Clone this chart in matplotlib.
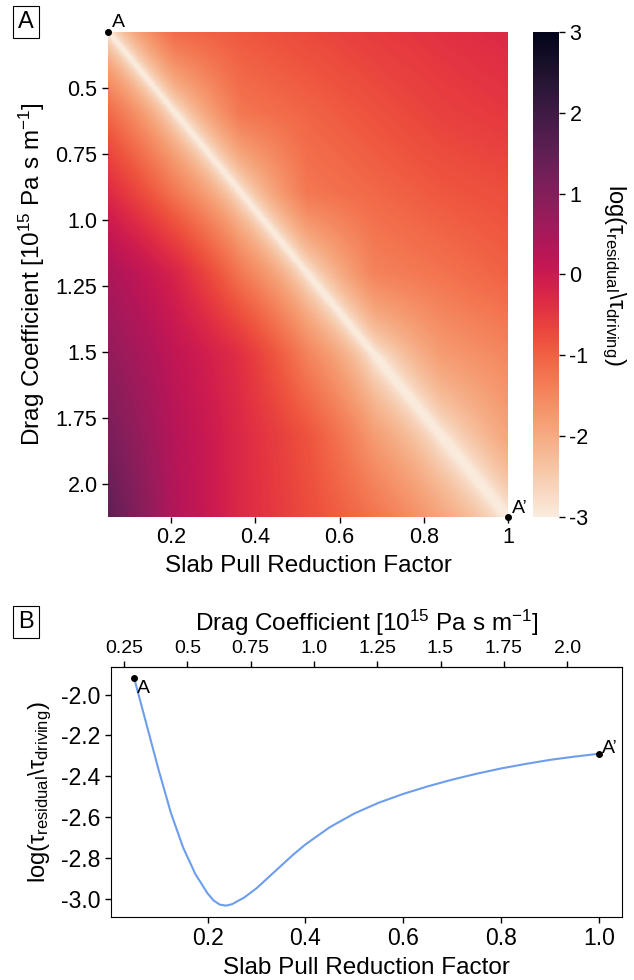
import numpy as np
import matplotlib
matplotlib.use('Agg')
import matplotlib.pyplot as plt
import matplotlib.colors as mcolors
import matplotlib.cm as cm
import seaborn as sns

plt.rcParams['font.family'] = ['Liberation Sans', 'DejaVu Sans']
plt.rcParams['axes.unicode_minus'] = False
plt.rcParams['mathtext.fontset'] = 'custom'
plt.rcParams['mathtext.rm'] = 'Liberation Sans'
plt.rcParams['mathtext.it'] = 'Liberation Sans'

# --- data ---
# heatmap nodes (panel A): slab pull reduction factor (columns) x drag coefficient (rows)
slab_pull_nodes = [0.05, 0.208, 0.367, 0.525, 0.683, 0.842, 1.0]
drag_nodes = [0.29, 0.596, 0.902, 1.208, 1.513, 1.819, 2.125]
# log(tau_residual / tau_driving) at the nodes, rows top (low drag) to bottom
log_ratio_grid = [
    [-1.92, -1.12, -0.90, -0.72, -0.55, -0.42, -0.30],
    [-1.12, -3.00, -1.28, -1.05, -0.82, -0.62, -0.50],
    [-0.30, -1.28, -2.78, -1.30, -1.10, -0.90, -0.78],
    [0.45, -0.20, -1.30, -2.55, -1.45, -1.25, -1.02],
    [0.80, 0.15, -0.40, -1.45, -2.43, -1.80, -1.50],
    [1.15, 0.30, -0.30, -0.85, -1.80, -2.35, -1.92],
    [1.50, 0.35, -0.30, -0.75, -1.25, -1.92, -2.29],
]

# profile along A - A' (panel B)
profile_slab_pull = [0.05, 0.075, 0.10, 0.125, 0.15, 0.175, 0.20, 0.2125, 0.225,
                     0.2375, 0.25, 0.275, 0.30, 0.325, 0.35, 0.375, 0.40, 0.45,
                     0.50, 0.55, 0.60, 0.65, 0.70, 0.75, 0.80, 0.85, 0.90, 0.95,
                     1.00]
profile_log_ratio = [-1.92, -2.145, -2.37, -2.58, -2.75, -2.88, -2.975, -3.01,
                     -3.03, -3.035, -3.028, -2.995, -2.95, -2.895, -2.84, -2.785,
                     -2.735, -2.65, -2.583, -2.53, -2.487, -2.45, -2.417, -2.388,
                     -2.362, -2.34, -2.32, -2.304, -2.29]

xticks_a = [0.2, 0.4, 0.6, 0.8, 1.0]
xticklabels_a = ['0.2', '0.4', '0.6', '0.8', '1']
yticks_a = [0.5, 0.75, 1.0, 1.25, 1.5, 1.75, 2.0]
yticklabels_a = ['0.5', '0.75', '1.0', '1.25', '1.5', '1.75', '2.0']
cbar_ticks = [-3, -2, -1, 0, 1, 2, 3]
xticks_b = [0.2, 0.4, 0.6, 0.8, 1.0]
yticks_b = [-3.0, -2.8, -2.6, -2.4, -2.2, -2.0]
drag_ticks_b = [0.25, 0.5, 0.75, 1.0, 1.25, 1.5, 1.75, 2.0]
drag_ticklabels_b = ['0.25', '0.5', '0.75', '1.0', '1.25', '1.5', '1.75', '2.0']

ratio_label = r'log($\mathrm{\tau}_{\mathrm{residual}}\backslash\mathrm{\tau}_{\mathrm{driving}}$)'
drag_label = r'Drag Coefficient [10$^{15}$ Pa s m$^{-1}$]'
slab_label = 'Slab Pull Reduction Factor'

cmap = sns.color_palette('rocket_r', as_cmap=True)
line_color = '#6d9eeb'

W, H = 634, 980
fig = plt.figure(figsize=(W / 100, H / 100), dpi=100)


def frac(x0, y0, x1, y1):
    return [x0 / W, 1 - y1 / H, (x1 - x0) / W, (y1 - y0) / H]


ax_a = fig.add_axes(frac(108, 32, 508, 517))
cax = fig.add_axes(frac(533, 32, 559, 517))
ax_b = fig.add_axes(frac(111, 667, 622, 917))

# ---------------- panel A ----------------
grid = np.array(log_ratio_grid)
n_rows, n_cols = grid.shape
# the residual changes sign across A - A'; store a signed, squared height above
# a floor so the sign change survives interpolation, the norm undoes it
floor = -3.35
side = np.sign(np.arange(n_cols)[None, :] - np.arange(n_rows)[:, None])
encoded = side * (grid - floor) ** 2

norm = mcolors.FuncNorm((lambda u: floor + np.sqrt(np.abs(u)),
                         lambda v: (v - floor) ** 2),
                        vmin=(-3 - floor) ** 2, vmax=(3 - floor) ** 2)
x0, x1 = slab_pull_nodes[0], slab_pull_nodes[-1]
y0, y1 = drag_nodes[0], drag_nodes[-1]
dx = (x1 - x0) / (n_cols - 1)
dy = (y1 - y0) / (n_rows - 1)
ax_a.imshow(encoded, cmap=cmap, norm=norm, interpolation='bilinear',
            interpolation_stage='data', origin='upper', aspect='auto',
            extent=[x0 - dx / 2, x1 + dx / 2, y1 + dy / 2, y0 - dy / 2])
ax_a.set_xlim(x0, x1)
ax_a.set_ylim(y1, y0)
for s in ax_a.spines.values():
    s.set_visible(False)
ax_a.set_xticks(xticks_a)
ax_a.set_xticklabels(xticklabels_a)
ax_a.set_yticks(yticks_a)
ax_a.set_yticklabels(yticklabels_a)
ax_a.tick_params(labelsize=15.5, length=4, width=1)
ax_a.set_xlabel(slab_label, fontsize=17.5, labelpad=5)
ax_a.set_ylabel(drag_label, fontsize=17.5, labelpad=6)

ax_a.plot([x0, x1], [y0, y1], 'o', color='k', ms=4, clip_on=False, zorder=5)
ax_a.annotate('A', (x0, y0), xytext=(3, 1), textcoords='offset points',
              fontsize=14, ha='left', va='bottom', annotation_clip=False)
ax_a.annotate('A\u2019', (x1, y1), xytext=(3, 0), textcoords='offset points',
              fontsize=14, ha='left', va='bottom', annotation_clip=False)

sm = cm.ScalarMappable(norm=mcolors.Normalize(-3, 3), cmap=cmap)
cbar = fig.colorbar(sm, cax=cax)
cbar.outline.set_visible(False)
cbar.set_ticks(cbar_ticks)
cbar.ax.tick_params(labelsize=15.5, length=4, width=1)
cbar.set_label(ratio_label, fontsize=17, rotation=270, labelpad=28)

# ---------------- panel B ----------------
ax_b.plot(profile_slab_pull, profile_log_ratio, color=line_color, lw=1.5)
ax_b.plot([profile_slab_pull[0], profile_slab_pull[-1]],
          [profile_log_ratio[0], profile_log_ratio[-1]], 'o', color='k', ms=4, zorder=5)
ax_b.annotate('A', (profile_slab_pull[0], profile_log_ratio[0]), xytext=(2, -1),
              textcoords='offset points', fontsize=14, ha='left', va='top')
ax_b.annotate('A\u2019', (profile_slab_pull[-1], profile_log_ratio[-1]), xytext=(2, -2),
              textcoords='offset points', fontsize=14, ha='left', va='bottom')
ax_b.set_xticks(xticks_b)
ax_b.set_yticks(yticks_b)
ax_b.yaxis.set_major_formatter(plt.FormatStrFormatter('%.1f'))
ax_b.tick_params(labelsize=16.5, length=4, width=1)
ax_b.set_xlabel(slab_label, fontsize=17.5, labelpad=5)
ax_b.set_ylabel(ratio_label, fontsize=17, labelpad=5)

scale = (y1 - y0) / (x1 - x0)
top = ax_b.secondary_xaxis('top', functions=(lambda f: y0 + (f - x0) * scale,
                                              lambda c: x0 + (c - y0) / scale))
top.set_xticks(drag_ticks_b)
top.set_xticklabels(drag_ticklabels_b)
top.tick_params(labelsize=14, length=4, width=1)
top.set_xlabel(drag_label, fontsize=17.5, labelpad=6)

for letter, ypx in [('A', 22), ('B', 622)]:
    fig.text(26 / W, 1 - ypx / H, letter, fontsize=17, ha='center', va='center',
             bbox=dict(boxstyle='square,pad=0.2', fc='white', ec='k', lw=0.8))

fig.savefig('out.png', dpi=100)
